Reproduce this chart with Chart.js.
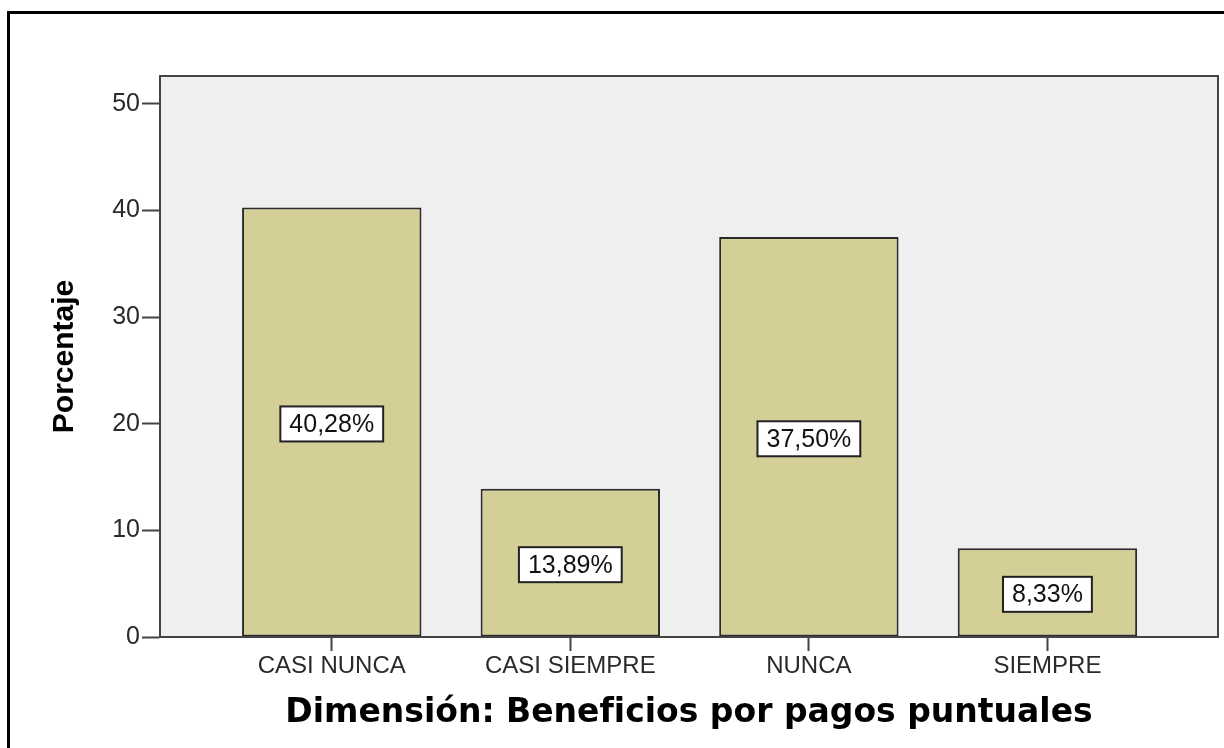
<!DOCTYPE html>
<html lang="es">
<head>
<meta charset="UTF-8">
<title>Dimensión: Beneficios por pagos puntuales</title>
<script src="https://cdn.jsdelivr.net/npm/chart.js@4.4.0/dist/chart.umd.min.js"></script>
<style>
  html, body { margin: 0; padding: 0; background: #ffffff; }
  .wrap { width: 1224px; height: 748px; }
</style>
</head>
<body>
<div class="wrap">
  <canvas id="barChart" width="1224" height="748"></canvas>
</div>
<script>
// Datos del gráfico
const categories = ['CASI NUNCA', 'CASI SIEMPRE', 'NUNCA', 'SIEMPRE'];
const percentages = [40.28, 13.89, 37.50, 8.33];
const barLabels = ['40,28%', '13,89%', '37,50%', '8,33%'];
const yTicks = [0, 10, 20, 30, 40, 50];

// Fondo, marco exterior y marco del área de trazado
const framePlugin = {
  id: 'frame',
  beforeDraw(chart) {
    const { ctx, chartArea: a } = chart;
    ctx.save();
    ctx.fillStyle = '#ffffff';
    ctx.fillRect(0, 0, chart.width, chart.height);
    ctx.strokeStyle = '#000000';
    ctx.lineWidth = 3;
    ctx.strokeRect(8.5, 12.5, 1230, 800);
    ctx.fillStyle = '#efefef';
    ctx.fillRect(a.left, a.top, a.right - a.left, a.bottom - a.top);
    ctx.restore();
  },
  afterDraw(chart) {
    const { ctx, chartArea: a } = chart;
    ctx.save();
    ctx.strokeStyle = '#444444';
    ctx.lineWidth = 2;
    ctx.strokeRect(a.left, a.top, a.right - a.left, a.bottom - a.top);
    ctx.restore();
  }
};

// Etiquetas con recuadro blanco dentro de cada barra
const boxLabelPlugin = {
  id: 'boxLabels',
  afterDatasetsDraw(chart) {
    const { ctx } = chart;
    const meta = chart.getDatasetMeta(0);
    ctx.save();
    ctx.font = '25px "Liberation Sans", Arial, sans-serif';
    ctx.textAlign = 'center';
    ctx.textBaseline = 'middle';
    meta.data.forEach((bar, i) => {
      const text = barLabels[i];
      const w = ctx.measureText(text).width + 18;
      const h = 35;
      const cx = bar.x;
      const cy = (bar.y + bar.base) / 2 + 2;
      ctx.fillStyle = '#ffffff';
      ctx.fillRect(cx - w / 2, cy - h / 2, w, h);
      ctx.strokeStyle = '#222222';
      ctx.lineWidth = 2;
      ctx.strokeRect(cx - w / 2, cy - h / 2, w, h);
      ctx.fillStyle = '#111111';
      ctx.fillText(text, cx, cy + 1);
    });
    ctx.restore();
  }
};

const ctx = document.getElementById('barChart').getContext('2d');

new Chart(ctx, {
  type: 'bar',
  data: {
    datasets: [{
      data: percentages.map((v, i) => ({ x: i, y: v })),
      backgroundColor: '#d3cf97',
      borderColor: '#2b2b2b',
      borderWidth: 2,
      borderSkipped: false,
      categoryPercentage: 1,
      barPercentage: 0.752
    }]
  },
  options: {
    responsive: false,
    animation: false,
    layout: { padding: { top: 76, right: 6, left: 0, bottom: 0 } },
    plugins: {
      legend: { display: false },
      tooltip: { enabled: false }
    },
    scales: {
      x: {
        type: 'linear',
        min: -0.72,
        max: 3.715,
        offset: false,
        afterBuildTicks: (scale) => {
          scale.ticks = categories.map((c, i) => ({ value: i }));
        },
        afterFit: (scale) => { scale.height = 111; },
        ticks: {
          callback: (v) => categories[v],
          color: '#2a2a2a',
          padding: 1,
          maxRotation: 0,
          autoSkip: false,
          font: { family: '"Liberation Sans", Arial, sans-serif', size: 24 }
        },
        grid: {
          offset: false,
          drawOnChartArea: false,
          drawTicks: true,
          tickLength: 14,
          tickColor: '#444444',
          tickWidth: 2
        },
        border: { display: true, color: '#444444', width: 2 },
        title: {
          display: true,
          text: 'Dimensión: Beneficios por pagos puntuales',
          color: '#000000',
          padding: { top: 0, bottom: 15 },
          font: { family: '"DejaVu Sans", Verdana, sans-serif', size: 33, weight: 'bold' }
        }
      },
      y: {
        min: 0,
        max: 52.6,
        afterBuildTicks: (scale) => {
          scale.ticks = yTicks.map(v => ({ value: v }));
        },
        afterFit: (scale) => { scale.width = 160; },
        ticks: {
          color: '#2a2a2a',
          padding: 2,
          font: { family: '"Liberation Sans", Arial, sans-serif', size: 25 }
        },
        grid: {
          drawOnChartArea: false,
          drawTicks: true,
          tickLength: 18,
          tickColor: '#444444',
          tickWidth: 2
        },
        border: { display: true, color: '#444444', width: 2 },
        title: {
          display: true,
          text: 'Porcentaje',
          color: '#000000',
          padding: { top: 47, bottom: 0 },
          font: { family: '"Liberation Sans", Arial, sans-serif', size: 30, weight: 'bold' }
        }
      }
    }
  },
  plugins: [framePlugin, boxLabelPlugin]
});
</script>
</body>
</html>
